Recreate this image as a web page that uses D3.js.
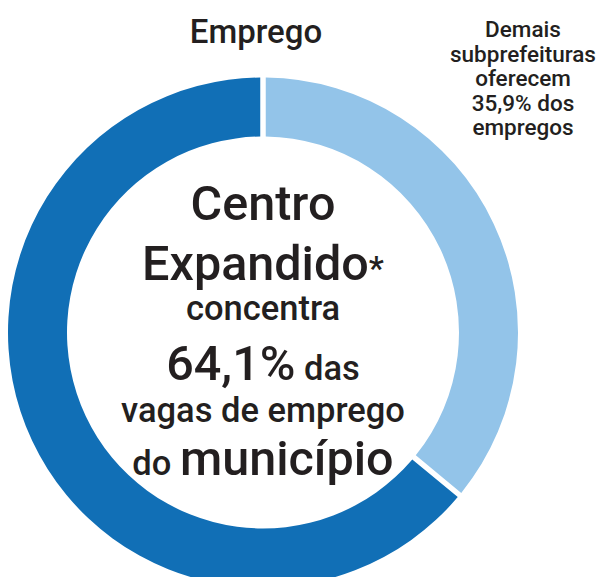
<!DOCTYPE html>
<html>
<head>
	<meta charset="utf-8">
	<script src="https://d3js.org/d3.v7.min.js"></script>
	<style type="text/css">
		body { margin: 0; background: #fff; }
		text { font-family: Roboto, "Noto Sans", sans-serif; fill: #231f20; font-weight: 500; }
	</style>
</head>
<body>
	<script type="text/javascript">
		// share of jobs, clockwise from the top
		const categories = ['Demais subprefeituras', 'Centro Expandido']
		const values = [35.9, 64.1]
		const colors = ['#93c4e9', '#116fb6']

		const title = 'Emprego'
		const noteLines = ['Demais', 'subprefeituras', 'oferecem', '35,9% dos', 'empregos']

		const width = 599, height = 577
		const cx = 263, cy = 332.5
		const outer = 255, inner = 196

		const svg = d3.select('body').append('svg')
			.attr('width', width)
			.attr('height', height)

		const pie = d3.pie().sort(null).value(d => d.value).padAngle(5.5 / outer)
		const arc = d3.arc().innerRadius(inner).outerRadius(outer).padRadius(outer)

		const data = categories.map((c, i) => ({name: c, value: values[i], color: colors[i]}))

		svg.append('g')
				.attr('transform', 'translate(' + cx + ',' + cy + ')')
			.selectAll('path')
			.data(pie(data))
			.enter()
			.append('path')
				.attr('d', arc)
				.style('fill', d => d.data.color)

		svg.append('text')
			.attr('x', 256).attr('y', 43)
			.attr('text-anchor', 'middle')
			.style('font-size', '33px')
			.text(title)

		svg.append('g').selectAll('text')
			.data(noteLines)
			.enter()
			.append('text')
				.attr('x', 523)
				.attr('y', (d, i) => 37 + i * 24.5)
				.attr('text-anchor', 'middle')
				.style('font-size', '22.5px')
				.text(d => d)

		// center statement
		const pct = d3.format('.1f')(values[1]).replace('.', ',') + '%'
		const big = 48.5, small = 34.5
		const center = [
			{y: 220, parts: [{t: 'Centro', s: big}]},
			{y: 280, parts: [{t: 'Expandido', s: big}, {t: '*', s: 34}]},
			{y: 320, parts: [{t: 'concentra', s: small}]},
			{y: 380, parts: [{t: pct, s: big}, {t: ' das', s: small}]},
			{y: 422, parts: [{t: 'vagas de emprego', s: small}]},
			{y: 475, parts: [{t: 'do ', s: small}, {t: 'município', s: big}]}
		]

		const lines = svg.append('g').selectAll('text')
			.data(center)
			.enter()
			.append('text')
				.attr('x', cx)
				.attr('y', d => d.y)
				.attr('text-anchor', 'middle')

		lines.selectAll('tspan')
			.data(d => d.parts)
			.enter()
			.append('tspan')
				.style('font-size', d => d.s + 'px')
				.text(d => d.t)
	</script>
</body>
</html>
